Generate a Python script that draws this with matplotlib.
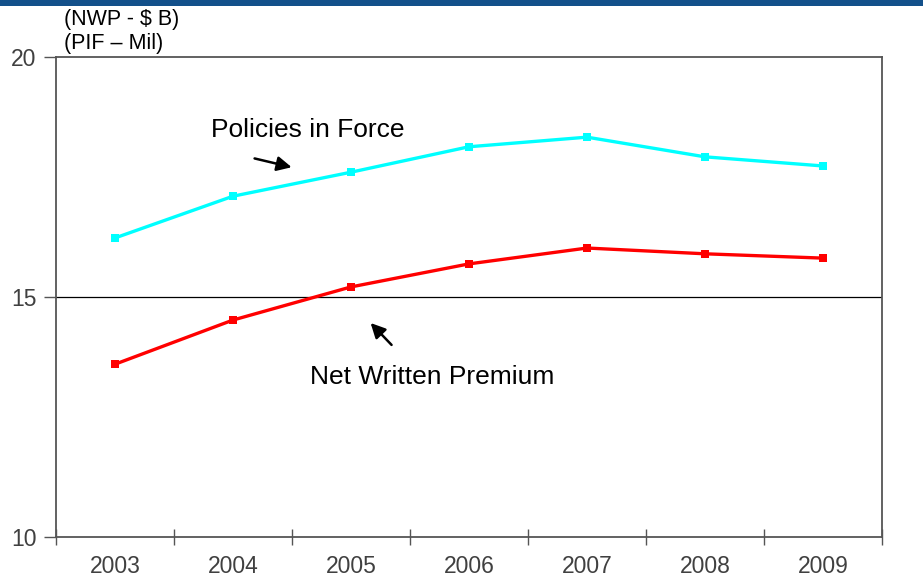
import matplotlib
matplotlib.use("Agg")
import matplotlib.pyplot as plt
from matplotlib.patches import Rectangle

years = ["2003", "2004", "2005", "2006", "2007", "2008", "2009"]
policies_in_force = [16.23, 17.10, 17.60, 18.13, 18.33, 17.92, 17.73]
net_written_premium = [13.60, 14.52, 15.21, 15.69, 16.02, 15.90, 15.81]
y_ticks = [10, 15, 20]

plt.rcParams["font.family"] = ["Liberation Sans", "DejaVu Sans"]

W, H = 923, 580
fig = plt.figure(figsize=(W / 100, H / 100), dpi=100)
fig.patch.set_facecolor("white")

# top banner strip
fig.add_artist(Rectangle((0, 1 - 6 / H), 1, 6 / H, transform=fig.transFigure,
                         facecolor="#13508a", edgecolor="none"))

ax = fig.add_axes([56 / W, 1 - 537 / H, 826 / W, 480 / H])
x = list(range(len(years)))

ax.plot(x, policies_in_force, color="#00ffff", lw=2.4, marker="s", ms=6,
        markeredgewidth=0, solid_capstyle="butt", zorder=3)
ax.plot(x, net_written_premium, color="#ff0000", lw=2.4, marker="s", ms=6,
        markeredgewidth=0, solid_capstyle="butt", zorder=3)

ax.set_xlim(-0.5, len(years) - 0.5)
ax.set_ylim(10, 20)
ax.set_yticks(y_ticks)
ax.set_yticklabels([str(v) for v in y_ticks], color="#404040", fontsize=16.5)
ax.set_xticks([i - 0.5 for i in range(len(years) + 1)])
ax.set_xticklabels([])
ax.set_xticks(x, minor=True)
ax.set_xticklabels(years, minor=True, color="#404040", fontsize=16.5)
ax.tick_params(axis="x", which="minor", length=0, pad=13)
ax.tick_params(axis="x", which="major", direction="inout", length=12,
               width=1, color="#555555")
ax.tick_params(axis="y", direction="out", length=9, width=1, color="#555555", pad=5)

for s in ax.spines.values():
    s.set_color("#555555")
    s.set_linewidth(1.3)

ax.axhline(15, color="black", lw=0.9, zorder=1)

ax.text(0.81, 18.48, "Policies in Force", fontsize=19, color="black",
        ha="left", va="center")
ax.annotate("", xy=(1.52, 17.69), xytext=(1.16, 17.90),
            arrowprops=dict(arrowstyle="-|>", color="black", lw=1.8,
                            mutation_scale=22))
ax.text(2.69, 13.33, "Net Written Premium", fontsize=19, color="black",
        ha="center", va="center")
ax.annotate("", xy=(2.15, 14.5), xytext=(2.36, 13.96),
            arrowprops=dict(arrowstyle="-|>", color="black", lw=1.8,
                            mutation_scale=22))

fig.text(64 / W, 1 - 20 / H, "(NWP - $ B)", fontsize=15.5, color="black",
         ha="left", va="center")
fig.text(64 / W, 1 - 43 / H, "(PIF \u2013 Mil)", fontsize=15.5, color="black",
         ha="left", va="center")

fig.savefig("out.png", dpi=100)
